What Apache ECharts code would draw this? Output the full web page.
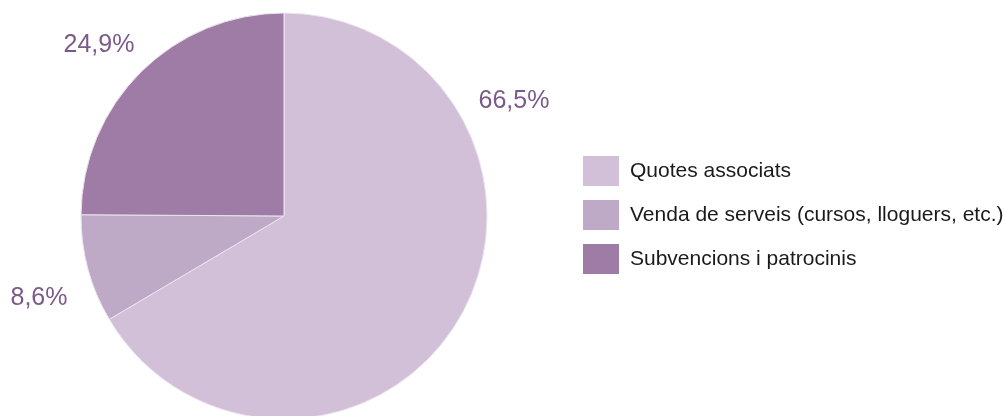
<!DOCTYPE html>
<html>
<head>
<meta charset="utf-8">
<script src="https://cdn.jsdelivr.net/npm/echarts@6/dist/echarts.min.js"></script>
<style>
html,body{margin:0;padding:0;background:#fff;}
#chart{width:1004px;height:416px;}
</style>
</head>
<body>
<div id="chart"></div>
<script>
const categories = ['Quotes associats', 'Venda de serveis (cursos, lloguers, etc.)', 'Subvencions i patrocinis'];
const values = [66.5, 8.6, 24.9];
const colors = ['#d1c0d7', '#bea9c7', '#9f7ca5'];

const chart = echarts.init(document.getElementById('chart'), null, {renderer: 'canvas'});
const fontFamily = '"Liberation Sans", Arial, Helvetica, sans-serif';

chart.setOption({
  animation: false,
  backgroundColor: '#ffffff',
  color: colors,
  legend: {
    orient: 'vertical',
    left: 583,
    top: 156,
    padding: 0,
    itemWidth: 36,
    itemHeight: 30,
    itemGap: 14,
    icon: 'rect',
    itemStyle: {borderWidth: 0},
    textStyle: {fontSize: 21, color: '#1a1a1a', fontFamily: fontFamily, padding: [0, 0, 0, 6]},
    data: categories
  },
  series: [{
    type: 'pie',
    center: [284, 216],
    radius: 203,
    startAngle: 90,
    clockwise: true,
    silent: true,
    itemStyle: {borderColor: '#ece4ef', borderWidth: 1},
    label: {
      show: true,
      position: 'outside',
      fontSize: 25,
      overflow: 'none',
      color: '#7b5a8b',
      fontFamily: fontFamily,
      formatter: function (p) { return p.value.toFixed(1).replace('.', ',') + '%'; }
    },
    labelLine: {show: false},
    labelLayout: function (p) {
      const pos = [[514, 101], [39, 298], [99, 45]][p.dataIndex];
      return {x: pos[0], y: pos[1], align: 'center', verticalAlign: 'middle'};
    },
    data: categories.map(function (c, i) { return {name: c, value: values[i]}; })
  }]
});
</script>
</body>
</html>
